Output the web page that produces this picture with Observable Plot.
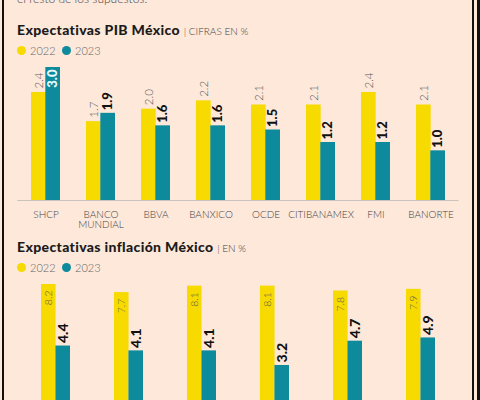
<!DOCTYPE html>
<html><head><meta charset="utf-8">
<script src="https://cdn.jsdelivr.net/npm/d3@7"></script>
<script src="https://cdn.jsdelivr.net/npm/@observablehq/plot@0.6"></script>
<style>
html,body{margin:0;padding:0;background:#fde8da;}
#page{position:relative;width:480px;height:400px;overflow:hidden;background:#fde8da;font-family:Lato,"Open Sans",sans-serif;}
.bl{position:absolute;top:0;bottom:0;background:#141010;}
.abs{position:absolute;white-space:nowrap;}
.title{font-weight:900;font-size:14px;line-height:14px;color:#1b1b1b;letter-spacing:0.35px;}
.unit{font-weight:300;font-size:10px;color:#444;letter-spacing:0px;}
.lg{font-size:11px;line-height:11px;font-weight:300;color:#666;}
.dot{position:absolute;width:9px;height:9px;border-radius:50%;}
.sub{font-size:12px;line-height:12px;font-weight:300;color:#444;}
.chart{position:absolute;left:0;}
</style></head>
<body>
<div id="page">
  <div class="abs sub" style="left:17px;top:-7px">el resto de los supuestos.</div>
  <div class="abs title" style="left:17px;top:23px">Expectativas PIB México <span class="unit">| CIFRAS EN %</span></div>
  <div class="dot" style="left:16.5px;top:46px;background:#f7da00"></div>
  <div class="abs lg" style="left:30px;top:45px">2022</div>
  <div class="dot" style="left:61.5px;top:46px;background:#0d8a9b"></div>
  <div class="abs lg" style="left:75px;top:45px">2023</div>
  <div id="c1" class="chart" style="top:58px"></div>

  <div class="abs title" style="left:17px;top:240px">Expectativas inflación México <span class="unit">| EN %</span></div>
  <div class="dot" style="left:16.5px;top:263px;background:#f7da00"></div>
  <div class="abs lg" style="left:30px;top:262px">2022</div>
  <div class="dot" style="left:61.5px;top:263px;background:#0d8a9b"></div>
  <div class="abs lg" style="left:75px;top:262px">2023</div>
  <div id="c2" class="chart" style="top:270px"></div>

  <div class="bl" style="left:2px;width:2px"></div>
  <div class="bl" style="left:472px;width:2px"></div>
  <div class="bl" style="left:477px;width:3px"></div>
</div>
<script>
const pibCats = ["SHCP","BANCO\nMUNDIAL","BBVA","BANXICO","OCDE","CITIBANAMEX","FMI","BANORTE"];
const pib2022 = [2.4,1.7,2.0,2.2,2.1,2.1,2.4,2.1];
const pib2023 = [3.0,1.9,1.6,1.6,1.5,1.2,1.2,1.0];

const infCats = ["SHCP","BANXICO","BBVA","OCDE","CITIBANAMEX","BANORTE"];
const inf2022 = [8.2,7.7,8.1,8.1,7.8,7.9];
const inf2023 = [4.4,4.1,4.1,3.2,4.7,4.9];

const YELLOW = "#f7da00", TEAL = "#0d8a9b";
const FONT = "Lato, 'Open Sans', sans-serif";

function chart({cats, a, b, height, yRange, yMax, marginBottom, paddingInner, aInside, bInside, aSize, bSize}) {
  const data = cats.map((c, i) => ({cat: c, a: a[i], b: b[i]}));
  const mL = 17.4, mR = 21.4;
  const step = (480 - mL - mR) / cats.length;
  const half = step * (1 - paddingInner) / 2;
  const fmt = v => v.toFixed(1);
  return Plot.plot({
    width: 480, height,
    marginLeft: mL, marginRight: mR, marginTop: 0, marginBottom,
    style: {background: "transparent", fontFamily: FONT, overflow: "visible"},
    x: {domain: cats, paddingInner, paddingOuter: paddingInner / 2, axis: null},
    y: {domain: [0, yMax], range: yRange, axis: null},
    marks: [
      Plot.ruleY([0], {dy: 8, stroke: "#c9c2bd", strokeWidth: 1}),
      Plot.barY(data, {x: "cat", y: "a", fill: YELLOW, insetRight: half, insetBottom: -8}),
      Plot.barY(data, {x: "cat", y: "b", fill: TEAL, insetLeft: half, insetBottom: -8}),
      Plot.text(data, {x: "cat", y: "a", text: d => fmt(d.a), rotate: -90,
        textAnchor: aInside ? "end" : "start", dy: aInside ? 6 : -4, dx: -half/2,
        fill: "#555", fontSize: aSize, fontWeight: 300}),
      Plot.text(data.filter(d => !bInside(d)), {x: "cat", y: "b", text: d => fmt(d.b), rotate: -90,
        textAnchor: "start", dy: -3, dx: half/2, fill: "#111", fontSize: bSize, fontWeight: 900}),
      Plot.text(data.filter(d => bInside(d)), {x: "cat", y: "b", text: d => fmt(d.b), rotate: -90,
        textAnchor: "end", dy: 2, dx: half/2, fill: "#e6fbff", fontSize: bSize, fontWeight: 900}),
      Plot.axisX({domain: cats, anchor: "bottom", tickSize: 0, tickPadding: 10, label: null,
        fontSize: 10, fontWeight: 300, fill: "#444", lineHeight: 1})
    ]
  });
}

const pibMax = d3.max(pib2023);
document.getElementById("c1").appendChild(chart({
  cats: pibCats, a: pib2022, b: pib2023, height: 180, marginBottom: 38,
  yMax: 3, yRange: [134, 9], paddingInner: 0.481,
  aInside: false, bInside: d => d.b === pibMax, aSize: 11.5, bSize: 13
}));
document.getElementById("c2").appendChild(chart({
  cats: infCats, a: inf2022, b: inf2023, height: 190, marginBottom: 35,
  yMax: 8.2, yRange: [146.8, 14], paddingInner: 0.607,
  aInside: true, bInside: d => false, aSize: 10.5, bSize: 14
}));
</script>
</body></html>
